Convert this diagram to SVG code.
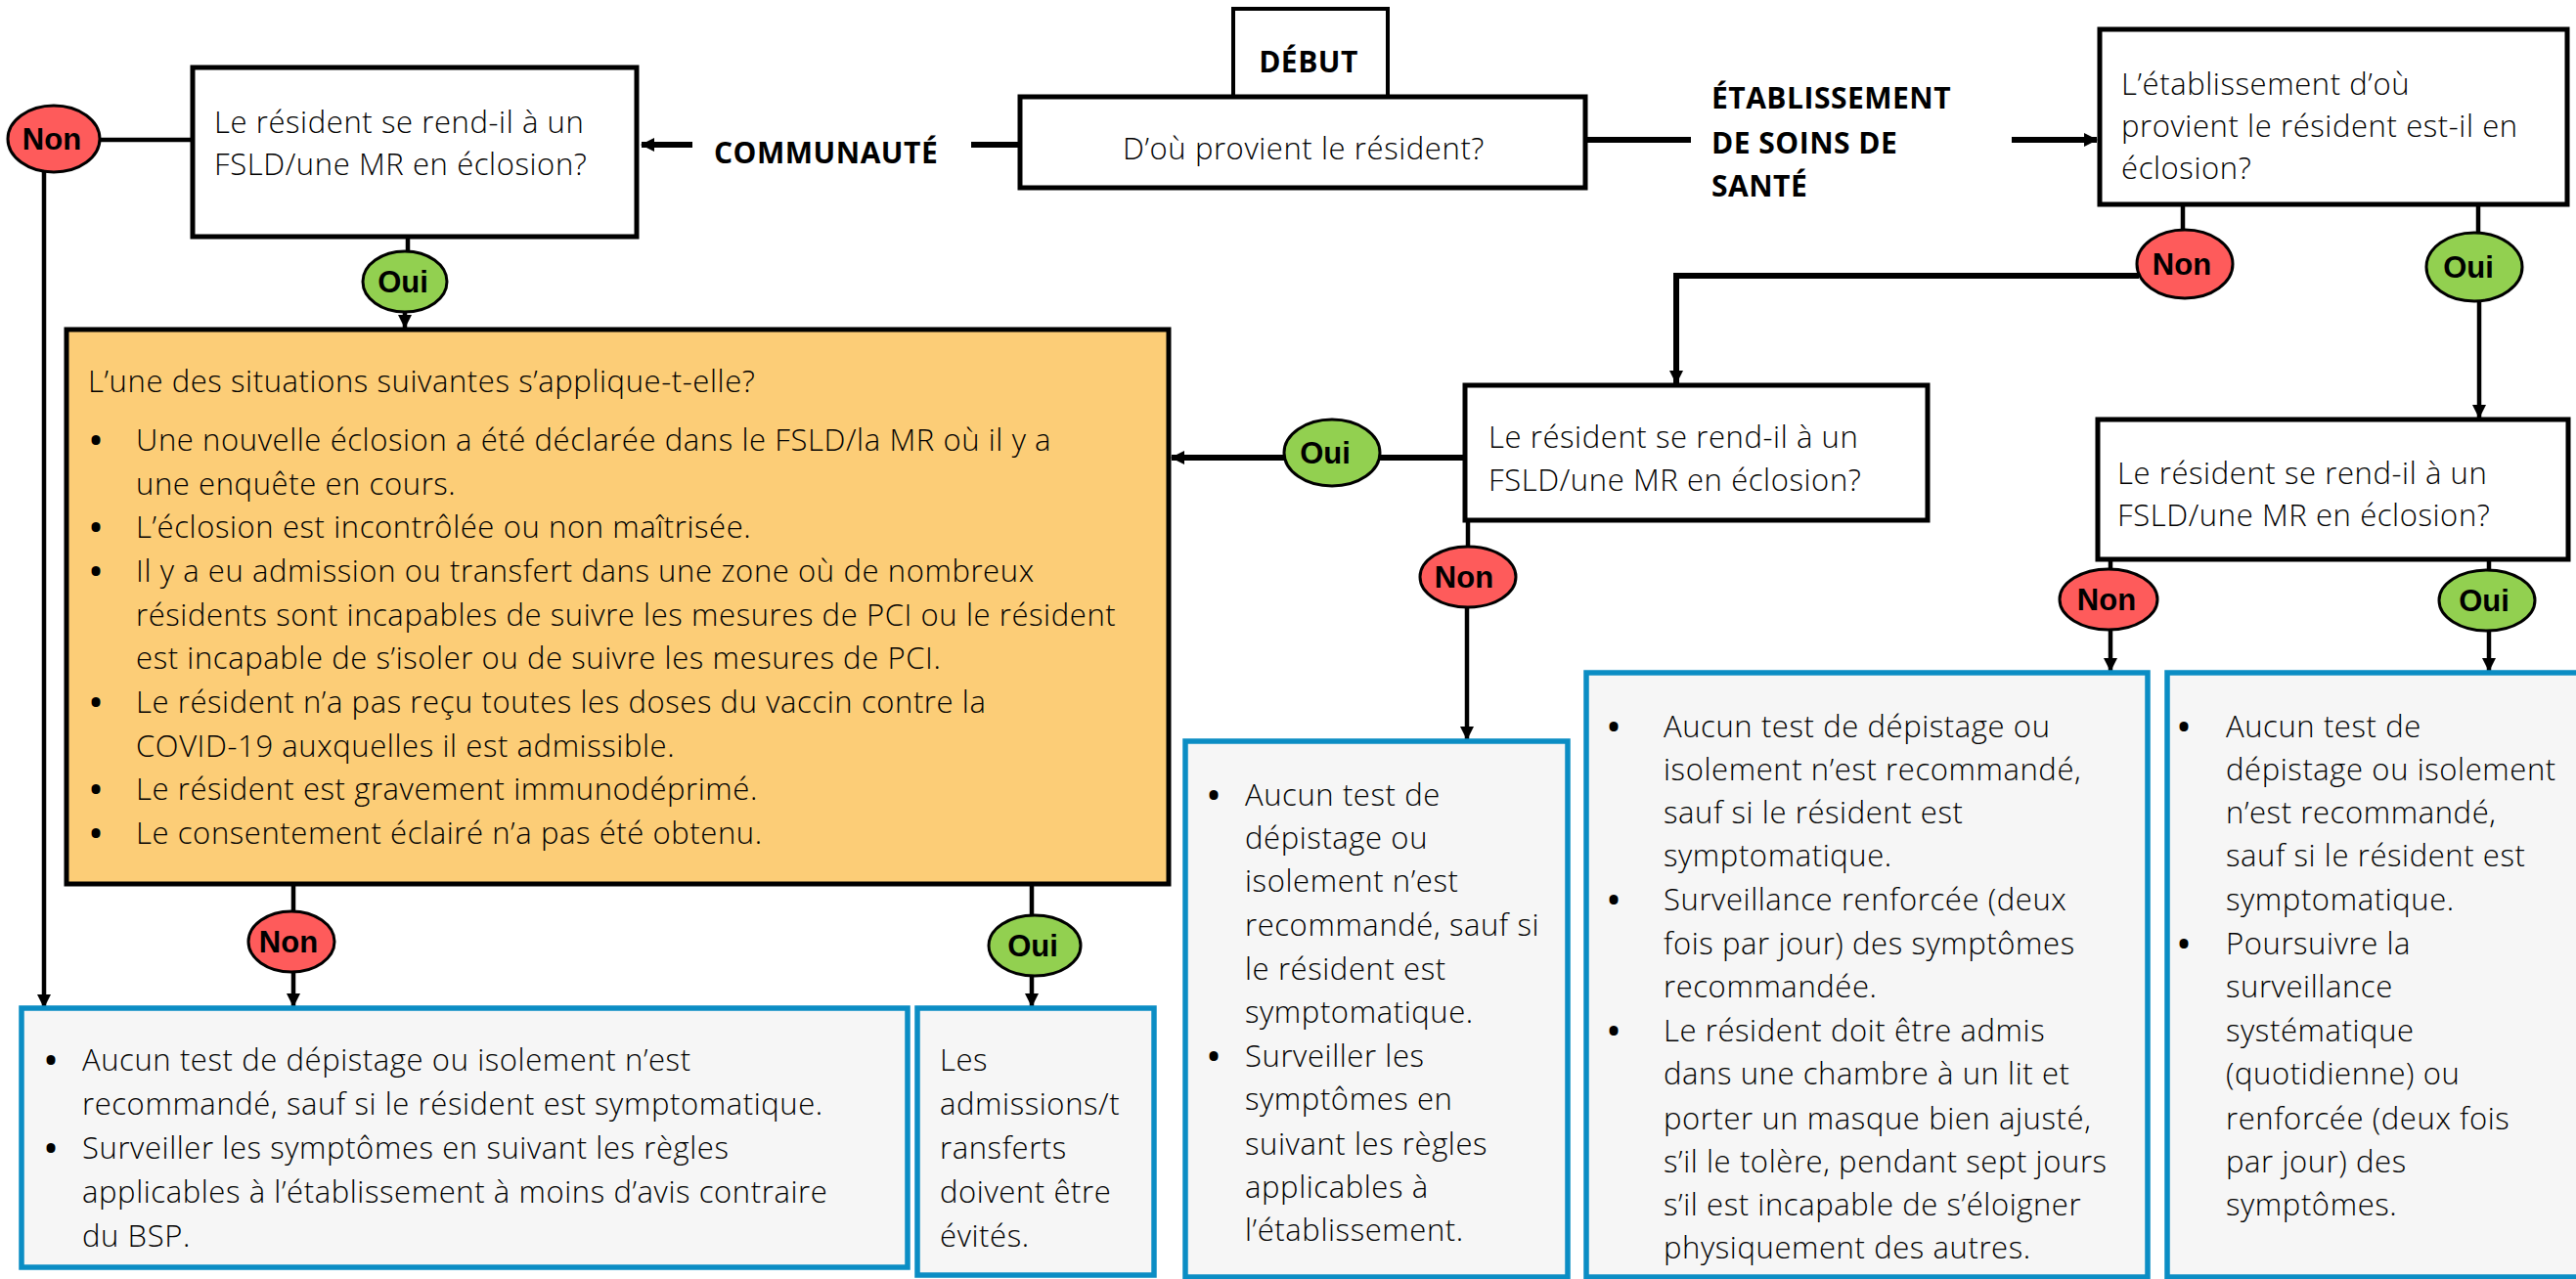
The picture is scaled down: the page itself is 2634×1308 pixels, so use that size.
<svg xmlns="http://www.w3.org/2000/svg" width="2634" height="1308" viewBox="0 0 2634 1308">
<defs>
<marker id="ah" viewBox="0 0 14 14" refX="13" refY="7" markerWidth="14" markerHeight="14" markerUnits="userSpaceOnUse" orient="auto">
<path d="M0,0 L14,7 L0,14 z" fill="#000"/>
</marker>
</defs>
<style>
.q{fill:#fff;stroke:#000;stroke-width:5}
.org{fill:#fccd77;stroke:#000;stroke-width:5}
.blu{fill:#f6f6f6;stroke:#0b8dc4;stroke-width:5.5}
.non{fill:#fe5b5b;stroke:#000;stroke-width:3}
.oui{fill:#92d050;stroke:#000;stroke-width:3}
.t{font-family:"Open Sans","Liberation Sans",sans-serif;font-size:31px;font-weight:300;letter-spacing:0.6px;fill:#000}
.bl{font-family:"Open Sans","Liberation Sans",sans-serif;font-size:32px;font-weight:700;fill:#000;text-anchor:middle}
.b{font-family:"Open Sans","Liberation Sans",sans-serif;font-size:30px;font-weight:700;letter-spacing:0.5px;fill:#000}
.yn{font-family:"Liberation Sans",Arial,sans-serif;font-size:31px;font-weight:700;fill:#000;text-anchor:middle}
.c{fill:none;stroke:#000;stroke-width:4.5}
.ck{fill:none;stroke:#000;stroke-width:6}
.m{text-anchor:middle}
</style>

<g id="connectors">
<path class="ck" d="M1042,148 H993"/>
<path class="ck" d="M708,148 H656" marker-end="url(#ah)"/>
<path class="ck" d="M1622,143 H1729"/>
<path class="ck" d="M2057,143 H2144" marker-end="url(#ah)"/>
<path class="c" d="M196,143 H100"/>
<path class="c" d="M45,172 V1030" marker-end="url(#ah)"/>
<path class="c" d="M417,243 V258"/>
<path class="c" d="M414,318 V335" marker-end="url(#ah)"/>
<path class="c" d="M300,905 V934"/>
<path class="c" d="M300,992 V1029" marker-end="url(#ah)"/>
<path class="c" d="M1055,905 V938"/>
<path class="c" d="M1055,996 V1029" marker-end="url(#ah)"/>
<path class="c" d="M2232,210 V236"/>
<path class="ck" d="M2187,282 H1714 V392" marker-end="url(#ah)"/>
<path class="c" d="M2534,210 V239"/>
<path class="c" d="M2535,307 V427" marker-end="url(#ah)"/>
<path class="ck" d="M1497,468 H1410"/>
<path class="ck" d="M1314,468 H1198" marker-end="url(#ah)"/>
<path class="c" d="M1501,533 V561"/>
<path class="c" d="M1500,619 V756" marker-end="url(#ah)"/>
<path class="c" d="M2158,573 V584"/>
<path class="c" d="M2158,642 V686" marker-end="url(#ah)"/>
<path class="c" d="M2545,573 V585"/>
<path class="c" d="M2545,643 V686" marker-end="url(#ah)"/>
</g>

<g id="labels">
<text class="b" x="730" y="167">COMMUNAUTÉ</text>
<text class="b" x="1750" y="111">ÉTABLISSEMENT</text>
<text class="b" x="1750" y="157">DE SOINS DE</text>
<text class="b" x="1750" y="201">SANTÉ</text>
</g>

<g id="debut">
<rect class="q" x="1261" y="9" width="158" height="90" style="stroke-width:4"/>
<text class="b m" x="1338" y="74">DÉBUT</text>
</g>

<g id="start">
<rect class="q" x="1043" y="99" width="578" height="93"/>
<text class="t m" x="1333" y="163">D’où provient le résident?</text>
</g>

<g id="q-communaute">
<rect class="q" x="197" y="69" width="454" height="173"/>
<text class="t" x="219" y="136">Le résident se rend-il à un</text>
<text class="t" x="219" y="179">FSLD/une MR en éclosion?</text>
</g>

<g id="q-etab">
<rect class="q" x="2147" y="30" width="478" height="179"/>
<text class="t" x="2169" y="97">L’établissement d’où</text>
<text class="t" x="2169" y="140">provient le résident est-il en</text>
<text class="t" x="2169" y="183">éclosion?</text>
</g>

<g id="q-etab-non">
<rect class="q" x="1498" y="394" width="473" height="138"/>
<text class="t" x="1522" y="458">Le résident se rend-il à un</text>
<text class="t" x="1522" y="502">FSLD/une MR en éclosion?</text>
</g>

<g id="q-etab-oui">
<rect class="q" x="2145" y="429" width="481" height="143"/>
<text class="t" x="2165" y="495">Le résident se rend-il à un</text>
<text class="t" x="2165" y="538">FSLD/une MR en éclosion?</text>
</g>

<g id="situations">
<rect class="org" x="68" y="337" width="1127" height="567"/>
<text class="t" x="90" y="401">L’une des situations suivantes s’applique-t-elle?</text>
<text class="bl" x="98" y="462">•</text>
<text class="t" x="139" y="461">Une nouvelle éclosion a été déclarée dans le FSLD/la MR où il y a</text>
<text class="t" x="139" y="506">une enquête en cours.</text>
<text class="bl" x="98" y="551">•</text>
<text class="t" x="139" y="550">L’éclosion est incontrôlée ou non maîtrisée.</text>
<text class="bl" x="98" y="596">•</text>
<text class="t" x="139" y="595">Il y a eu admission ou transfert dans une zone où de nombreux</text>
<text class="t" x="139" y="640">résidents sont incapables de suivre les mesures de PCI ou le résident</text>
<text class="t" x="139" y="684">est incapable de s’isoler ou de suivre les mesures de PCI.</text>
<text class="bl" x="98" y="730">•</text>
<text class="t" x="139" y="729">Le résident n’a pas reçu toutes les doses du vaccin contre la</text>
<text class="t" x="139" y="774">COVID-19 auxquelles il est admissible.</text>
<text class="bl" x="98" y="819">•</text>
<text class="t" x="139" y="818">Le résident est gravement immunodéprimé.</text>
<text class="bl" x="98" y="864">•</text>
<text class="t" x="139" y="863">Le consentement éclairé n’a pas été obtenu.</text>
</g>

<g id="r-commu-non">
<rect class="blu" x="22" y="1031" width="906" height="265"/>
<text class="bl" x="52" y="1096">•</text>
<text class="t" x="84" y="1095">Aucun test de dépistage ou isolement n’est</text>
<text class="t" x="84" y="1140">recommandé, sauf si le résident est symptomatique.</text>
<text class="bl" x="52" y="1186">•</text>
<text class="t" x="84" y="1185">Surveiller les symptômes en suivant les règles</text>
<text class="t" x="84" y="1230">applicables à l’établissement à moins d’avis contraire</text>
<text class="t" x="84" y="1275">du BSP.</text>
</g>

<g id="r-commu-oui">
<rect class="blu" x="938" y="1031" width="242" height="273"/>
<text class="t" x="961" y="1095">Les</text>
<text class="t" x="961" y="1140">admissions/t</text>
<text class="t" x="961" y="1185">ransferts</text>
<text class="t" x="961" y="1230">doivent être</text>
<text class="t" x="961" y="1275">évités.</text>
</g>

<g id="r-etab-non">
<rect class="blu" x="1212" y="758" width="391" height="548"/>
<text class="bl" x="1241" y="825">•</text>
<text class="t" x="1273" y="824">Aucun test de</text>
<text class="t" x="1273" y="868">dépistage ou</text>
<text class="t" x="1273" y="912">isolement n’est</text>
<text class="t" x="1273" y="957">recommandé, sauf si</text>
<text class="t" x="1273" y="1002">le résident est</text>
<text class="t" x="1273" y="1046">symptomatique.</text>
<text class="bl" x="1241" y="1092">•</text>
<text class="t" x="1273" y="1091">Surveiller les</text>
<text class="t" x="1273" y="1135">symptômes en</text>
<text class="t" x="1273" y="1181">suivant les règles</text>
<text class="t" x="1273" y="1225">applicables à</text>
<text class="t" x="1273" y="1269">l’établissement.</text>
</g>

<g id="r-oui-non">
<rect class="blu" x="1622" y="688" width="574" height="618"/>
<text class="bl" x="1650" y="755">•</text>
<text class="t" x="1701" y="754">Aucun test de dépistage ou</text>
<text class="t" x="1701" y="798">isolement n’est recommandé,</text>
<text class="t" x="1701" y="842">sauf si le résident est</text>
<text class="t" x="1701" y="886">symptomatique.</text>
<text class="bl" x="1650" y="932">•</text>
<text class="t" x="1701" y="931">Surveillance renforcée (deux</text>
<text class="t" x="1701" y="976">fois par jour) des symptômes</text>
<text class="t" x="1701" y="1020">recommandée.</text>
<text class="bl" x="1650" y="1066">•</text>
<text class="t" x="1701" y="1065">Le résident doit être admis</text>
<text class="t" x="1701" y="1109">dans une chambre à un lit et</text>
<text class="t" x="1701" y="1155">porter un masque bien ajusté,</text>
<text class="t" x="1701" y="1199">s’il le tolère, pendant sept jours</text>
<text class="t" x="1701" y="1243">s’il est incapable de s’éloigner</text>
<text class="t" x="1701" y="1287">physiquement des autres.</text>
</g>

<g id="r-oui-oui">
<rect class="blu" x="2216" y="688" width="430" height="618"/>
<text class="bl" x="2233" y="755">•</text>
<text class="t" x="2276" y="754">Aucun test de</text>
<text class="t" x="2276" y="798">dépistage ou isolement</text>
<text class="t" x="2276" y="842">n’est recommandé,</text>
<text class="t" x="2276" y="886">sauf si le résident est</text>
<text class="t" x="2276" y="931">symptomatique.</text>
<text class="bl" x="2233" y="977">•</text>
<text class="t" x="2276" y="976">Poursuivre la</text>
<text class="t" x="2276" y="1020">surveillance</text>
<text class="t" x="2276" y="1065">systématique</text>
<text class="t" x="2276" y="1109">(quotidienne) ou</text>
<text class="t" x="2276" y="1155">renforcée (deux fois</text>
<text class="t" x="2276" y="1199">par jour) des</text>
<text class="t" x="2276" y="1243">symptômes.</text>
</g>

<g id="non-1"><ellipse class="non" cx="55" cy="142" rx="47" ry="34"/><text class="yn" x="53" y="153">Non</text></g>
<g id="oui-1"><ellipse class="oui" cx="414" cy="288" rx="43" ry="31"/><text class="yn" x="412" y="299">Oui</text></g>
<g id="non-2"><ellipse class="non" cx="298" cy="963" rx="44" ry="31"/><text class="yn" x="295" y="974">Non</text></g>
<g id="oui-2"><ellipse class="oui" cx="1058" cy="967" rx="47" ry="31"/><text class="yn" x="1056" y="978">Oui</text></g>
<g id="oui-3"><ellipse class="oui" cx="1362" cy="463" rx="49" ry="34"/><text class="yn" x="1355" y="474">Oui</text></g>
<g id="non-3"><ellipse class="non" cx="1501" cy="590" rx="49" ry="31"/><text class="yn" x="1497" y="601">Non</text></g>
<g id="non-4"><ellipse class="non" cx="2234" cy="270" rx="49" ry="35"/><text class="yn" x="2231" y="281">Non</text></g>
<g id="oui-4"><ellipse class="oui" cx="2530" cy="273" rx="49" ry="35"/><text class="yn" x="2524" y="284">Oui</text></g>
<g id="non-5"><ellipse class="non" cx="2156" cy="613" rx="50" ry="31"/><text class="yn" x="2154" y="624">Non</text></g>
<g id="oui-5"><ellipse class="oui" cx="2543" cy="614" rx="49" ry="31"/><text class="yn" x="2540" y="625">Oui</text></g>
</svg>
